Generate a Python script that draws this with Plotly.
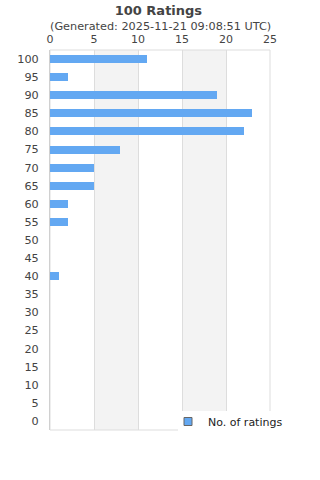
import plotly.graph_objects as go

ratings = [0, 5, 10, 15, 20, 25, 30, 35, 40, 45, 50, 55, 60, 65, 70, 75, 80, 85, 90, 95, 100]
counts = [0, 0, 0, 0, 0, 0, 0, 0, 1, 0, 0, 2, 2, 5, 5, 8, 22, 23, 19, 2, 11]
x_ticks = [0, 5, 10, 15, 20, 25]
bands = [(5, 10), (15, 20)]
series_name = "No. of ratings"
BAR_COLOR = "#63a8f2"

FONT = "DejaVu Sans"

fig = go.Figure()
fig.add_trace(go.Bar(
    x=counts, y=ratings, orientation="h", width=2.2,
    marker=dict(color=BAR_COLOR, line=dict(width=0)),
    name=series_name, showlegend=False,
))
# legend proxy (no data)
fig.add_trace(go.Scatter(
    x=[None], y=[None], mode="markers", name=series_name,
    marker=dict(symbol="square", size=8, color=BAR_COLOR, line=dict(color="#666666", width=1)),
))

shapes = []
for a, b in bands:
    shapes.append(dict(type="rect", xref="x", yref="paper", x0=a, x1=b, y0=0, y1=1,
                       fillcolor="#f3f3f3", line=dict(width=0), layer="below"))
shapes.append(dict(type="rect", xref="paper", yref="paper", x0=0, x1=1, y0=0, y1=1,
                   line=dict(color="#dddddd", width=1), layer="below"))
# legend backdrop
shapes.append(dict(type="rect", xref="paper", yref="paper", x0=(178 - 50) / 220, x1=1.3,
                   y0=-0.1, y1=19 / 380, fillcolor="white", line=dict(width=0), layer="above"))

fig.update_layout(
    width=320, height=480,
    margin=dict(l=50, r=50, t=50, b=50),
    paper_bgcolor="white", plot_bgcolor="white",
    font=dict(family=FONT, size=11, color="#444444"),
    title=dict(text="<b>100 Ratings</b>", x=0.495, xanchor="center",
               y=1 - 10 / 480, yref="container", yanchor="middle",
               font=dict(family=FONT, size=13, color="#444444")),
    annotations=[dict(text="(Generated: 2025-11-21 09:08:51 UTC)", xref="paper", yref="paper",
                      x=0.5, y=1 + 23.5 / 380, xanchor="center", yanchor="middle",
                      showarrow=False, font=dict(family=FONT, size=11.25, color="#444444"))],
    shapes=shapes,
    xaxis=dict(side="top", range=[0, 25], tickvals=x_ticks, showgrid=True,
               gridcolor="#dddddd", gridwidth=1, zeroline=False, showline=False,
               ticks="outside", ticklen=2, tickcolor="rgba(0,0,0,0)",
               tickfont=dict(size=11, color="#444444"), fixedrange=True),
    yaxis=dict(range=[-2.5, 102.5], tickvals=ratings, showgrid=False, zeroline=False,
               showline=True, linecolor="#d0d0d0", linewidth=1,
               ticks="outside", ticklen=8, tickcolor="rgba(0,0,0,0)",
               tickfont=dict(size=11.25, color="#444444")),
    showlegend=True,
    legend=dict(x=(168 - 50) / 220, y=23 / 380, xanchor="left", yanchor="top",
                bgcolor="rgba(0,0,0,0)", font=dict(family=FONT, size=11, color="#222222"),
                itemwidth=30),
    bargap=0,
)

fig.write_html("out.html")
